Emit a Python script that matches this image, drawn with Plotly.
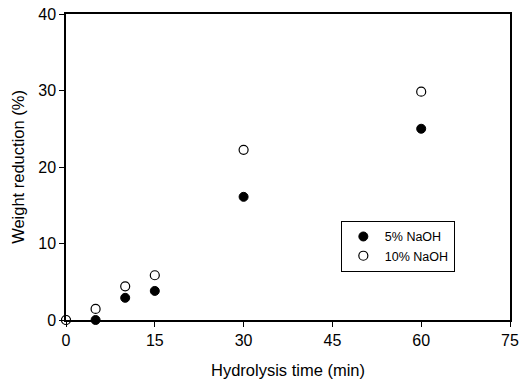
import plotly.graph_objects as go

time_5 = [0, 5, 10, 15, 30, 60]
naoh5 = [0, 0, 2.9, 3.8, 16.1, 25.0]
time_10 = [0, 5, 10, 15, 30, 60]
naoh10 = [0, 1.45, 4.4, 5.85, 22.25, 29.85]
x_ticks = [0, 15, 30, 45, 60, 75]
y_ticks = [0, 10, 20, 30, 40]

FONT = "Liberation Sans, Arial"

fig = go.Figure()
fig.add_trace(go.Scatter(x=time_5, y=naoh5, mode="markers", name="5% NaOH",
                         marker=dict(symbol="circle", size=9, color="black",
                                     line=dict(color="black", width=1)),
                         cliponaxis=False))
fig.add_trace(go.Scatter(x=time_10, y=naoh10, mode="markers", name="10% NaOH",
                         marker=dict(symbol="circle", size=9, color="white",
                                     line=dict(color="black", width=1.2)),
                         cliponaxis=False))

axis_common = dict(showgrid=False, zeroline=False, showline=True, linecolor="black",
                   linewidth=1.5, ticks="outside", ticklen=5, tickwidth=1.2,
                   tickcolor="black", mirror=True, automargin=False,
                   tickfont=dict(family=FONT, size=16, color="black"))

fig.update_layout(
    width=520, height=384,
    margin=dict(l=66, r=10, t=14, b=64),
    paper_bgcolor="white", plot_bgcolor="white",
    showlegend=True,
    legend=dict(x=0.619, y=0.324, xanchor="left", yanchor="top",
                bordercolor="black", borderwidth=1, bgcolor="white",
                font=dict(family=FONT, size=12.5, color="black"),
                itemwidth=33, tracegroupgap=0),
    xaxis=dict(range=[0, 75], tickvals=x_ticks, **axis_common,
               title=dict(text="Hydrolysis time (min)", standoff=16,
                          font=dict(family=FONT, size=16.5, color="black"))),
    yaxis=dict(range=[0, 40], tickvals=y_ticks, **axis_common,
               title=dict(text="Weight reduction (%)", standoff=9,
                          font=dict(family=FONT, size=16.5, color="black"))),
)
fig.write_html("out.html")
